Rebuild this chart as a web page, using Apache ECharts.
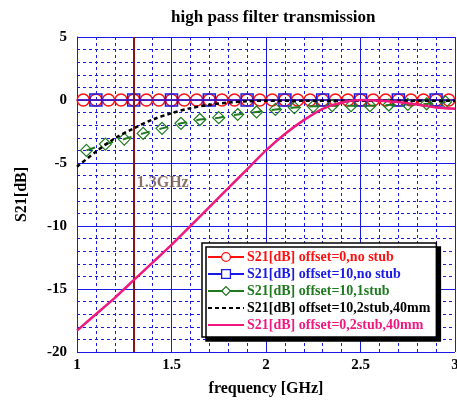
<!DOCTYPE html>
<html>
<head>
<meta charset="utf-8">
<script src="https://cdn.jsdelivr.net/npm/echarts@6/dist/echarts.min.js"></script>
<style>
  html, body { margin: 0; padding: 0; background: #fff; }
  #chart { width: 457px; height: 400px; }
</style>
</head>
<body>
<div id="chart"></div>
<script>
// S21 transmission of the high pass filter

// offset=0, no stub (red circles)
var freqRed = [1.0, 1.033, 1.1, 1.167, 1.233, 1.3, 1.367, 1.433, 1.5, 1.567, 1.633, 1.7, 1.767, 1.833, 1.9, 1.967,
    2.033, 2.1, 2.167, 2.233, 2.3, 2.367, 2.433, 2.5, 2.567, 2.633, 2.7, 2.767, 2.833, 2.9, 2.967, 3.0];
var s21Off0NoStub = [0, 0, 0, 0, 0, 0, 0, 0, 0, 0, 0, 0, 0, 0, 0, 0,
    0, 0, 0, 0, 0, 0, 0, 0, 0, 0, 0, 0, 0, 0, 0, 0];

// offset=10, no stub (blue squares)
var freqBlue = [1.0, 1.1, 1.3, 1.5, 1.7, 1.9, 2.1, 2.3, 2.5, 2.7, 2.9, 3.0];
var s21Off10NoStub = [0, 0, 0, 0, 0, 0, 0, 0, 0, 0, 0, 0];

// offset=10, 1 stub (green diamonds)
var freqGreen = [1.05, 1.15, 1.25, 1.35, 1.45, 1.55, 1.65, 1.75, 1.85, 1.95,
    2.05, 2.15, 2.25, 2.35, 2.45, 2.55, 2.65, 2.75, 2.85, 2.95];
var s21Off10OneStub = [-4.0, -3.5, -3.1, -2.65, -2.25, -1.85, -1.55, -1.4, -1.15, -0.95,
    -0.75, -0.6, -0.5, -0.45, -0.45, -0.45, -0.4, -0.35, -0.3, -0.15];

// offset=10, 2 stub, 40mm (black dashed)
var freqBlack = [1.0, 1.1, 1.2, 1.3, 1.4, 1.5, 1.6, 1.7, 1.8, 1.9, 2.0,
    2.2, 2.4, 2.6, 2.8, 3.0];
var s21Off10TwoStub = [-5.3, -4.1, -3.05, -2.25, -1.55, -1.05, -0.65, -0.38, -0.2, -0.1, -0.05,
    -0.05, -0.05, -0.05, -0.05, -0.05];

// offset=0, 2 stub, 40mm (pink)
var freqPink = [1.0, 1.1, 1.2, 1.3, 1.4, 1.5, 1.6, 1.7, 1.8, 1.9, 2.0,
    2.1, 2.2, 2.3, 2.4, 2.5, 2.6, 2.7, 2.8, 2.9, 3.0];
var s21Off0TwoStub = [-18.3, -17.0, -15.7, -14.3, -12.9, -11.5, -10.0, -8.5, -7.0, -5.5, -4.0,
    -2.7, -1.6, -0.7, -0.2, 0, -0.05, -0.15, -0.35, -0.6, -0.7];

// marker frequency
var markerFreq = [1.3];
var markerLabel = ['1.3GHz'];

var seriesNames = [
    'S21[dB] offset=0,no stub',
    'S21[dB] offset=10,no stub',
    'S21[dB] offset=10,1stub',
    'S21[dB] offset=10,2stub,40mm',
    'S21[dB] offset=0,2stub,40mm'
];

var FONT = 'Liberation Serif';
var gridBlue = '#1a1ae6';

function pairs(xs, ys) {
    var out = [];
    for (var i = 0; i < xs.length; i++) {
        out.push([xs[i], ys[i]]);
    }
    return out;
}

// endpoints only carry the line, no symbol
function pairsInner(xs, ys) {
    var out = [];
    for (var i = 0; i < xs.length; i++) {
        var item = { value: [xs[i], ys[i]] };
        if (i === 0 || i === xs.length - 1) {
            item.symbol = 'none';
        }
        out.push(item);
    }
    return out;
}

var myChart = echarts.init(document.getElementById('chart'));

var options = {
    animation: false,
    backgroundColor: '#fff',
    title: {
        text: 'high pass filter transmission',
        left: 166,
        top: 4,
        textStyle: { fontFamily: FONT, fontWeight: 'bold', fontSize: 17, color: '#000' }
    },
    grid: { left: 77, right: 2, top: 37, bottom: 48, outerBoundsMode: 'none' },
    xAxis: {
        type: 'value',
        min: 1,
        max: 3,
        interval: 0.5,
        name: 'frequency [GHz]',
        nameLocation: 'middle',
        nameGap: 29,
        nameTextStyle: { fontFamily: FONT, fontWeight: 'bold', fontSize: 16, color: '#000' },
        axisLine: { lineStyle: { color: gridBlue, width: 1 } },
        axisTick: { show: false },
        axisLabel: { fontFamily: FONT, fontWeight: 'bold', fontSize: 15, color: '#000', margin: 6 },
        splitLine: { show: true, lineStyle: { color: gridBlue, width: 1 } },
        minorTick: { show: false, splitNumber: 5 },
        minorSplitLine: { show: true, lineStyle: { color: gridBlue, width: 1, type: [3, 3] } }
    },
    yAxis: {
        type: 'value',
        min: -20,
        max: 5,
        interval: 5,
        name: 'S21[dB]',
        nameLocation: 'middle',
        nameGap: 47,
        nameTextStyle: { fontFamily: FONT, fontWeight: 'bold', fontSize: 16, color: '#000' },
        axisLine: { show: true, lineStyle: { color: gridBlue, width: 1 } },
        axisTick: { show: false },
        axisLabel: { fontFamily: FONT, fontWeight: 'bold', fontSize: 15, color: '#000', margin: 10 },
        splitLine: { show: true, lineStyle: { color: gridBlue, width: 1 } },
        minorTick: { show: false, splitNumber: 5 },
        minorSplitLine: { show: true, lineStyle: { color: gridBlue, width: 1, type: [3, 3] } }
    },
    legend: {
        data: seriesNames,
        orient: 'vertical',
        left: 202,
        top: 243,
        padding: [7, 6, 5, 5],
        itemWidth: 36,
        itemHeight: 11,
        itemGap: 3,
        backgroundColor: '#fff',
        borderColor: '#000',
        borderWidth: 1.5,
        shadowColor: '#000',
        shadowBlur: 0,
        shadowOffsetX: 4,
        shadowOffsetY: 4,
        textStyle: { fontFamily: FONT, fontWeight: 'bold', fontSize: 14, lineHeight: 13, padding: [0, 0, 0, -2] }
    },
    series: [
        {
            name: seriesNames[0],
            type: 'line',
            data: pairsInner(freqRed, s21Off0NoStub),
            color: '#ff1010',
            symbol: 'circle',
            symbolSize: 12,
            lineStyle: { color: '#ff1010', width: 1.5 },
            itemStyle: { color: 'rgba(255,255,255,0)', borderColor: '#ff1010', borderWidth: 1.5 },
            z: 3
        },
        {
            name: seriesNames[1],
            type: 'line',
            data: pairsInner(freqBlue, s21Off10NoStub),
            color: '#1a1ae6',
            symbol: 'rect',
            symbolSize: 12,
            lineStyle: { color: '#1a1ae6', width: 1.5 },
            itemStyle: { color: 'rgba(255,255,255,0)', borderColor: '#1a1ae6', borderWidth: 1.5 },
            z: 4
        },
        {
            name: seriesNames[2],
            type: 'line',
            data: pairs(freqGreen, s21Off10OneStub),
            color: '#1f7a1f',
            symbol: 'diamond',
            symbolSize: 12,
            lineStyle: { color: '#1f7a1f', width: 2, type: [9, 10] },
            itemStyle: { color: 'rgba(255,255,255,0)', borderColor: '#1f7a1f', borderWidth: 1.2 },
            z: 5
        },
        {
            name: seriesNames[3],
            type: 'line',
            data: pairs(freqBlack, s21Off10TwoStub),
            color: '#000',
            symbol: 'none',
            smooth: 0.3,
            lineStyle: { color: '#000', width: 2.5, type: [4, 3] },
            z: 6
        },
        {
            name: seriesNames[4],
            type: 'line',
            data: pairs(freqPink, s21Off0TwoStub),
            color: '#f0187f',
            symbol: 'none',
            smooth: 0.2,
            lineStyle: { color: '#f0187f', width: 2.5 },
            z: 7
        },
        {
            // 1.3 GHz marker line and its label
            name: 'marker',
            type: 'scatter',
            data: [[markerFreq[0], -6.6]],
            symbolSize: 0,
            silent: true,
            label: {
                show: true,
                position: 'right',
                distance: 3,
                formatter: markerLabel[0],
                fontFamily: FONT,
                fontWeight: 'bold',
                fontSize: 16,
                color: '#6e4f46'
            },
            markLine: {
                silent: true,
                symbol: 'none',
                label: { show: false },
                lineStyle: { color: '#8b1414', width: 2, type: 'solid' },
                data: [{ xAxis: markerFreq[0] }]
            },
            z: 2
        }
    ]
};

// legend text takes the series colour; plain lines get no symbol in the legend
options.legend.data = [];
for (var i = 0; i < seriesNames.length; i++) {
    var s = options.series[i];
    var item = {
        name: seriesNames[i],
        textStyle: { color: s.lineStyle.color }
    };
    if (s.symbol === 'none') {
        item.itemStyle = { opacity: 0 };
    } else {
        // hollow markers in the legend too
        item.itemStyle = { color: '#fff', borderColor: s.lineStyle.color, borderWidth: 1.3 };
    }
    if (i === 2) {
        item.lineStyle = { type: 'solid' };
    }
    options.legend.data.push(item);
}

myChart.setOption(options, true);
</script>
</body>
</html>
